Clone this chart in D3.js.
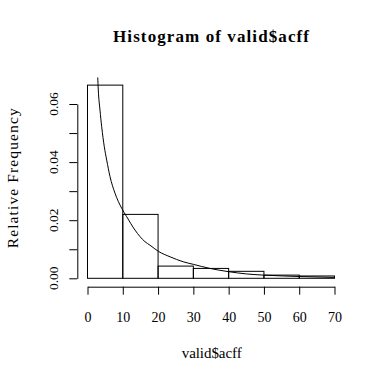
<!DOCTYPE html>
<html><head><meta charset="utf-8">
<script src="https://cdn.jsdelivr.net/npm/d3@7"></script>
<style>body{margin:0;background:#fff}svg{display:block}text{font-family:"Liberation Serif","DejaVu Serif",serif;fill:#000}</style>
</head><body>
<script>
const binEdges = [0,10,20,30,40,50,60,70];
const densities = [0.0665,0.0220,0.0042,0.0034,0.0024,0.0011,0.0008];
const curveX = [2.78,2.89,3.06,3.54,4.02,4.76,5.44,6.38,7.79,9.69,11.11,13.46,16.29,17.7,20.06,23.4,27.1,30.0,34.7,39.9,45.1,49.8,55.5,60.2,70.1];
const curveY = [0.0725,0.0694,0.0648,0.0579,0.0522,0.0453,0.0407,0.0350,0.0293,0.0241,0.0212,0.0166,0.0126,0.0114,0.0093,0.0074,0.0057,0.0048,0.0034,0.0023,0.0015,0.0011,0.0008,0.0006,0.0003];
const xTicks = [0,10,20,30,40,50,60,70];
const yTicks = [0,0.01,0.02,0.03,0.04,0.05,0.06];
const yLabelTicks = [0,0.02,0.04,0.06];
const title = "Histogram of valid$acff";
const xLabel = "valid$acff";
const yLabel = "Relative Frequency";

const W=384,H=383;
const svg=d3.select("body").append("svg").attr("width",W).attr("height",H);
const x=d3.scaleLinear().domain([0,70]).range([87.5,334.5]);
const y=d3.scaleLinear().domain([0,0.06]).range([278.3,104]);
const yMax=0.0665*1.04, yMin=-0.0665*0.04;
svg.append("defs").append("clipPath").attr("id","pr").append("rect")
  .attr("x",x(-2.8)).attr("y",y(yMax)).attr("width",x(72.8)-x(-2.8)).attr("height",y(yMin)-y(yMax));

const bars=densities.map((d,i)=>({x0:binEdges[i],x1:binEdges[i+1],d}));
svg.append("g").selectAll("rect").data(bars).join("rect")
  .attr("x",d=>x(d.x0)).attr("y",d=>y(d.d)).attr("width",d=>x(d.x1)-x(d.x0)).attr("height",d=>y(0)-y(d.d))
  .attr("fill","none").attr("stroke","#000").attr("stroke-width",1);

const pts=curveX.map((v,i)=>[v,curveY[i]]);
svg.append("path").attr("clip-path","url(#pr)").datum(pts)
  .attr("d",d3.line().x(d=>x(d[0])).y(d=>y(d[1])).curve(d3.curveMonotoneX))
  .attr("fill","none").attr("stroke","#000").attr("stroke-width",1);

// x axis
const xa=svg.append("g").attr("transform","translate(0,286.7)")
  .call(d3.axisBottom(x).tickValues(xTicks).tickSize(8).tickPadding(17).tickSizeOuter(0).tickFormat(d3.format("d")));
xa.select(".domain").attr("stroke","#000");
xa.selectAll("text").attr("font-size","14px").attr("font-family","Liberation Serif, serif");

// y axis
const ya=svg.append("g").attr("transform","translate(77.3,0)")
  .call(d3.axisLeft(y).tickValues(yTicks).tickSize(8).tickSizeOuter(0).tickFormat(""));
ya.select(".domain").attr("stroke","#000");
svg.append("g").selectAll("text").data(yLabelTicks).join("text")
  .attr("transform",d=>`translate(58.3,${y(d)}) rotate(-90)`)
  .attr("text-anchor","middle").attr("font-size","13.5px").text(d=>d3.format(".2f")(d));

svg.append("text").attr("x",211).attr("y",41.7).attr("text-anchor","middle")
  .attr("font-size","17px").attr("font-weight","bold")
  .attr("textLength",196).attr("lengthAdjust","spacing").text(title);
svg.append("text").attr("x",211.7).attr("y",358.3).attr("text-anchor","middle")
  .attr("font-size","15px").attr("textLength",60).attr("lengthAdjust","spacing").text(xLabel);
svg.append("text").attr("transform","translate(17.5,178.3) rotate(-90)")
  .attr("text-anchor","middle").attr("font-size","15.5px")
  .attr("textLength",140).attr("lengthAdjust","spacing").text(yLabel);
</script>
</body></html>
